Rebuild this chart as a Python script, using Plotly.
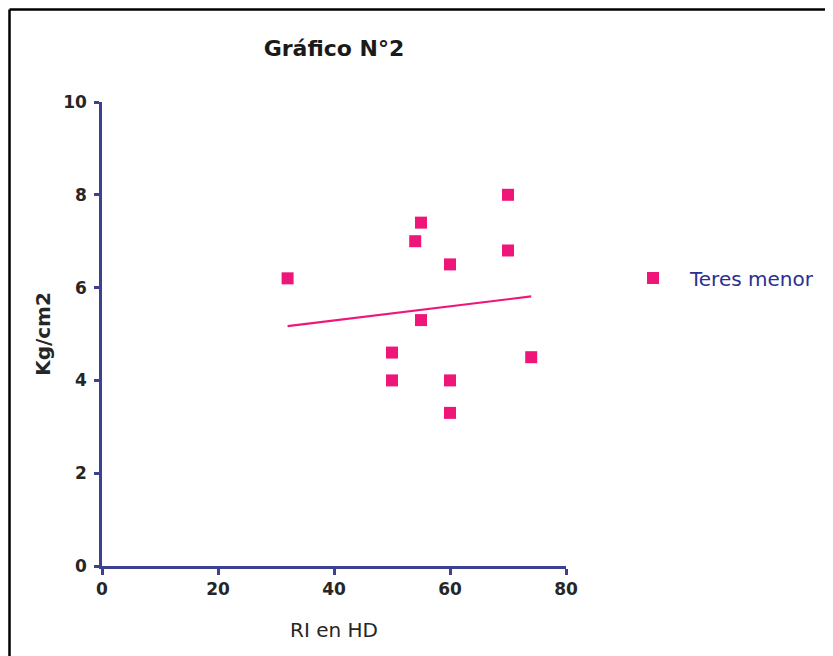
import plotly.graph_objects as go

# Data
ri_hd = [32, 50, 50, 54, 55, 55, 60, 60, 60, 70, 70, 74]
kg_cm2 = [6.2, 4.6, 4.0, 7.0, 7.4, 5.3, 6.5, 4.0, 3.3, 8.0, 6.8, 4.5]
fit_x = [32, 74]
fit_y = [5.17, 5.81]
x_ticks = [0, 20, 40, 60, 80]
y_ticks = [0, 2, 4, 6, 8, 10]
series_name = "Teres menor"
title_text = "Gráfico N°2"
x_title = "RI en HD"
y_title = "Kg/cm2"

OFF = 8  # page body margin
W, H = 833 - OFF, 656 - OFF
L, R, T, B = 102 - OFF, 267, 102 - OFF, 90
PW, PH = W - L - R, H - T - B

PINK = "#ef1679"
NAVY = "#3c4192"
TXT = "#262626"

fig = go.Figure()
fig.add_trace(go.Scatter(
    x=ri_hd, y=kg_cm2, mode="markers", name=series_name,
    marker=dict(symbol="square", size=12, color=PINK, line=dict(width=0)),
    showlegend=True,
))
fig.add_trace(go.Scatter(
    x=fit_x, y=fit_y, mode="lines", line=dict(color=PINK, width=2.2),
    showlegend=False, hoverinfo="skip",
))

# convert reference-pixel positions to paper coordinates
def px2x(px):
    return (px - OFF - L) / PW

def py2y(py):
    return (H - B - (py - OFF)) / PH

BX = OFF + 1.5  # frame position (as close to the page edge as the figure allows)
fig.update_layout(
    width=W, height=H,
    margin=dict(l=L, r=R, t=T, b=B),
    paper_bgcolor="white", plot_bgcolor="white",
    title=dict(text=title_text, x=0.5, xref="paper", xanchor="center",
               y=1 - (48 - OFF) / H, yref="container", yanchor="middle",
               font=dict(family="DejaVu Sans", size=22, color="#1a1a1a", weight="bold")),
    xaxis=dict(range=[0, 80], tickvals=x_ticks, showgrid=False, zeroline=False,
               showline=True, linecolor=NAVY, linewidth=2.5,
               ticks="outside", ticklen=6, tickwidth=2.5, tickcolor=NAVY,
               tickfont=dict(family="DejaVu Sans", size=17, color=TXT, weight="bold"),
               title=dict(text=x_title, standoff=25,
                          font=dict(family="DejaVu Sans", size=20, color=TXT)),
               fixedrange=True),
    yaxis=dict(range=[0, 10], tickvals=y_ticks, showgrid=False, zeroline=False,
               showline=True, linecolor=NAVY, linewidth=2.5,
               ticks="outside", ticklen=5, tickwidth=2.5, tickcolor=NAVY,
               ticklabelstandoff=4,
               tickfont=dict(family="DejaVu Sans", size=17, color=TXT, weight="bold"),
               title=dict(text=y_title, standoff=8,
                          font=dict(family="DejaVu Sans", size=20, color=TXT, weight="bold")),
               fixedrange=True),
    legend=dict(x=px2x(616), xanchor="left", y=py2y(278), yanchor="middle",
                itemwidth=64, bgcolor="rgba(0,0,0,0)", borderwidth=0,
                font=dict(family="DejaVu Sans", size=20, color="#2b2f8f")),
    shapes=[
        dict(type="line", xref="paper", yref="paper",
             x0=px2x(BX), x1=px2x(840), y0=py2y(BX), y1=py2y(BX),
             line=dict(color="black", width=2.5)),
        dict(type="line", xref="paper", yref="paper",
             x0=px2x(BX), x1=px2x(BX), y0=py2y(BX), y1=py2y(660),
             line=dict(color="black", width=2.5)),
    ],
)

fig.write_html("out.html")
